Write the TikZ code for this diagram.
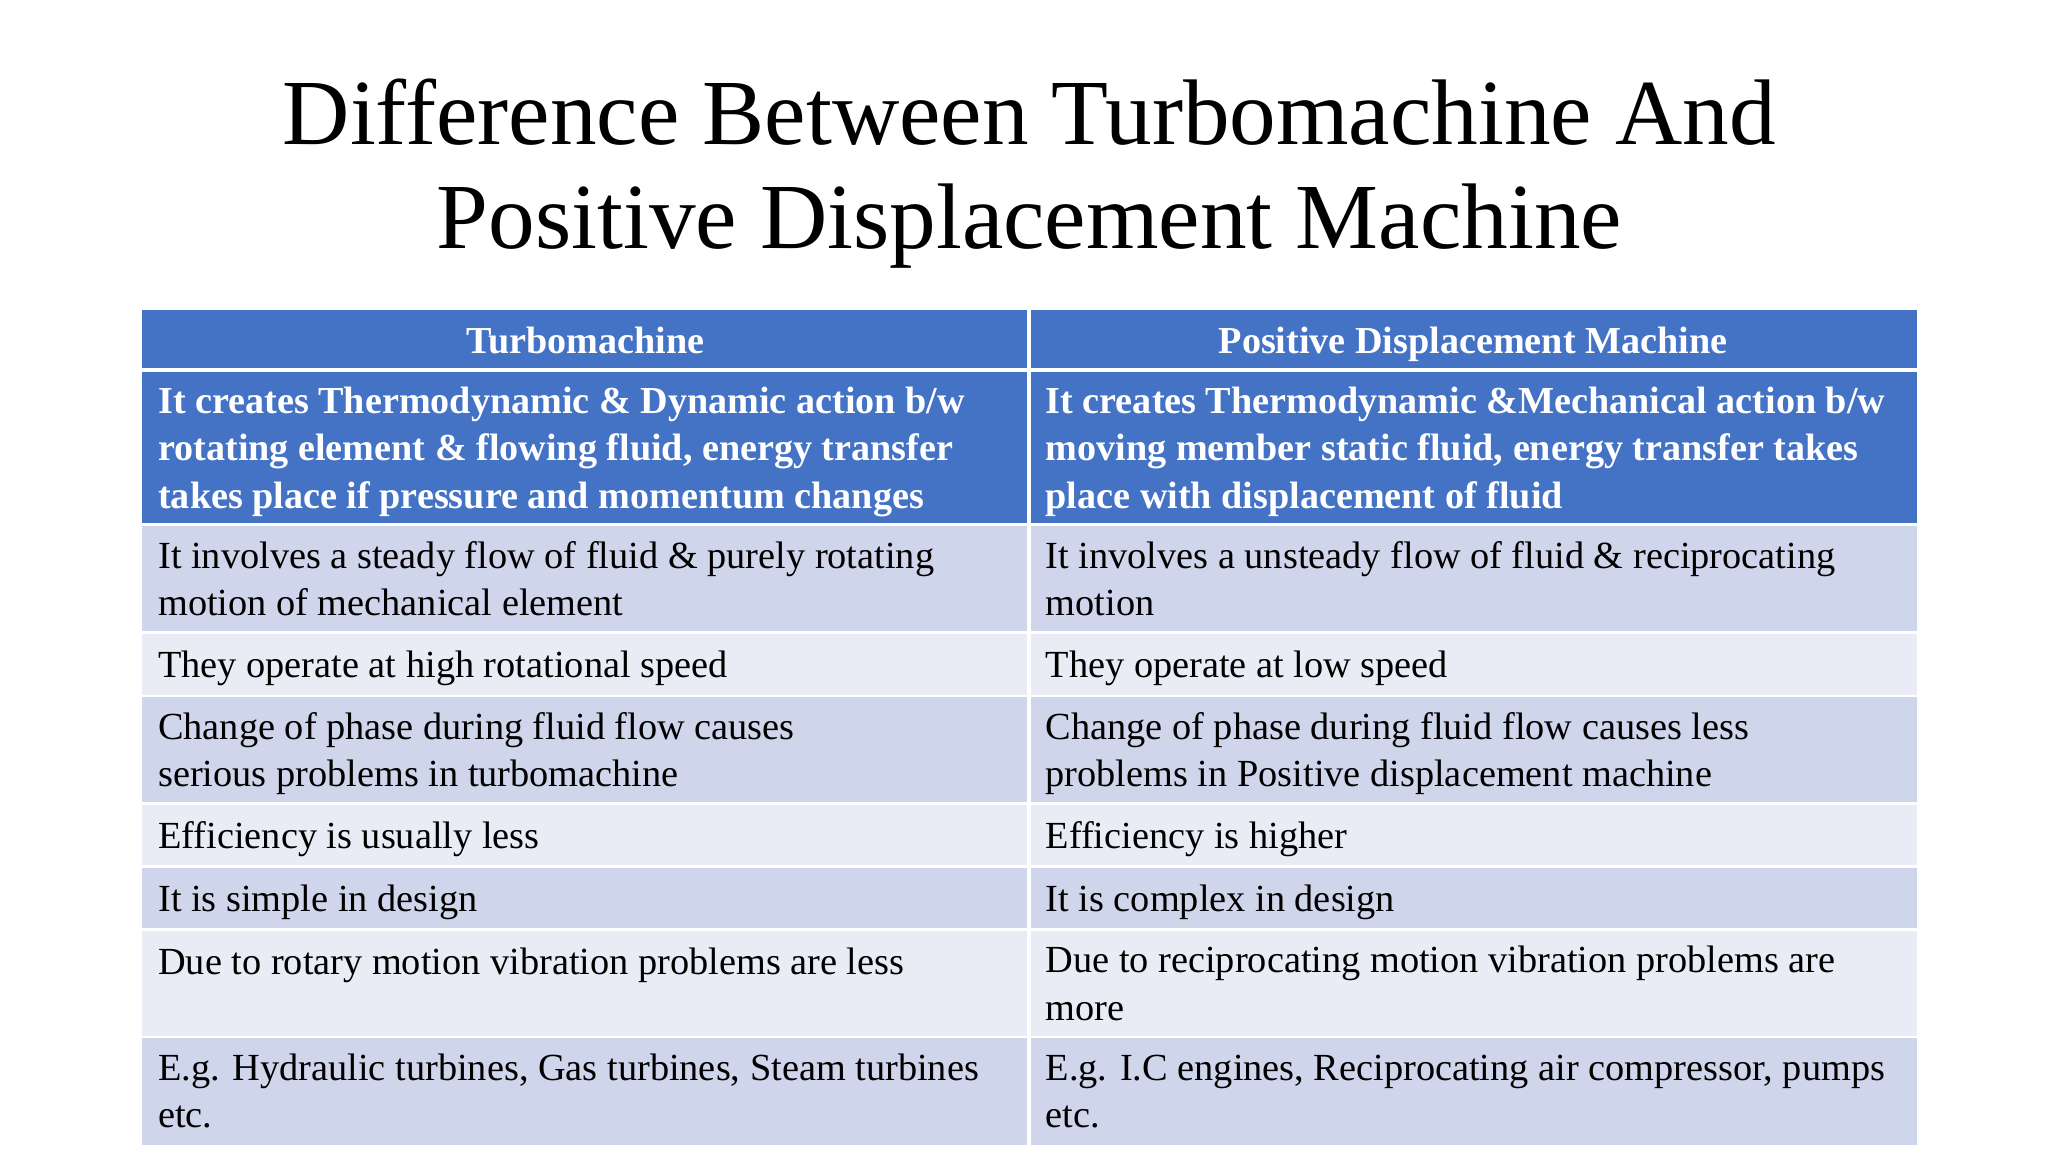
\documentclass[tikz,border=0pt]{standalone}
\usepackage{fontspec}
\setmainfont{Liberation Serif}
\definecolor{hdr}{HTML}{4472C4}
\definecolor{rowa}{HTML}{CFD5EA}
\definecolor{rowb}{HTML}{E9EBF5}
\begin{document}
\begin{tikzpicture}[x=0.013128cm,y=-0.013128cm,
  cell/.style={anchor=base west,inner sep=0pt,font=\fontsize{10.9}{13.4}\selectfont,align=left},
  hcell/.style={cell,text=white,font=\fontsize{10.85}{13.4}\selectfont\bfseries},
  ttl/.style={inner sep=0pt,font=\fontsize{26.5}{31}\selectfont}]
\useasboundingbox (0,0) rectangle (1560,877.5);
\fill[white] (0,0) rectangle (1560,877.5);
\foreach \t/\b/\c in {236/280/hdr,283/398/hdr,401/481/rowa,483/529/rowb,531/611/rowa,613/659/rowb,661/707/rowa,709/789/rowb,791/872/rowa}{
  \fill[\c] (108,\t) rectangle (782,\b);
  \fill[\c] (785,\t) rectangle (1460,\b);
}
\node[ttl,anchor=base] (t1) at (784,110) {Difference Between Turbomachine And};
\node[ttl,anchor=base] (t2) at (784,189) {Positive Displacement Machine};
\node[hcell,anchor=base] (h1) at (446,269) {Turbomachine};
\node[hcell,anchor=base] (h2) at (1122,269) {Positive Displacement Machine};
\node[hcell] (a1) at (120,387) {It creates Thermodynamic \& Dynamic action b/w\\rotating element \& flowing fluid, energy transfer\\takes place if pressure and momentum changes};
\node[hcell] (b1) at (796,387) {It creates Thermodynamic \&Mechanical action b/w\\moving member static fluid, energy transfer takes\\place with displacement of fluid};
\node[cell] (a2) at (120,469) {It involves a steady flow of fluid \& purely rotating\\motion of mechanical element};
\node[cell] (b2) at (796,469) {It involves a unsteady flow of fluid \& reciprocating\\motion};
\node[cell] (a3) at (120,516) {They operate at high rotational speed};
\node[cell] (b3) at (796,516) {They operate at low speed};
\node[cell] (a4) at (120,599) {Change of phase during fluid flow causes\\serious problems in turbomachine};
\node[cell] (b4) at (796,599) {Change of phase during fluid flow causes less\\problems in Positive displacement machine};
\node[cell] (a5) at (120,646) {Efficiency is usually less};
\node[cell] (b5) at (796,646) {Efficiency is higher};
\node[cell] (a6) at (120,694) {It is simple in design};
\node[cell] (b6) at (796,694) {It is complex in design};
\node[cell] (a7) at (120,742) {Due to rotary motion vibration problems are less};
\node[cell] (b7) at (796,777) {Due to reciprocating motion vibration problems are\\more};
\node[cell] (a8) at (120,859) {E.g. Hydraulic turbines, Gas turbines, Steam turbines\\etc.};
\node[cell] (b8) at (796,859) {E.g. I.C engines, Reciprocating air compressor, pumps\\etc.};
\end{tikzpicture}
\end{document}
